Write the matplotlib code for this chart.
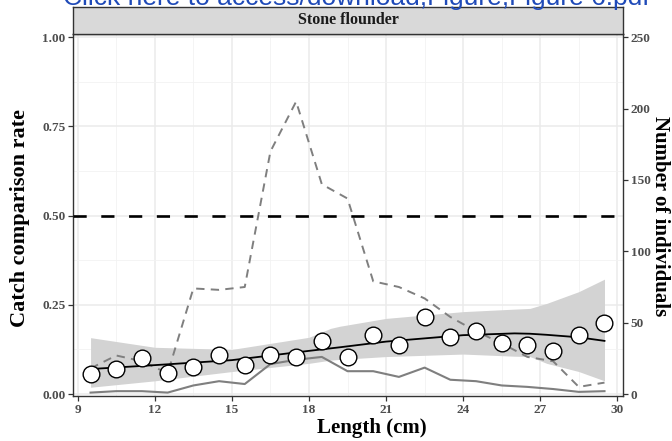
import numpy as np
import matplotlib
matplotlib.use("Agg")
import matplotlib.pyplot as plt

plt.rcParams['font.family'] = ['Liberation Serif', 'DejaVu Serif']
plt.rcParams['font.weight'] = 'bold'
plt.rcParams['lines.scale_dashes'] = False

# length classes (cm) and observed catch comparison rate
length = [9.5, 10.5, 11.5, 12.5, 13.5, 14.5, 15.5, 16.5, 17.5, 18.5,
          19.5, 20.5, 21.5, 22.5, 23.5, 24.5, 25.5, 26.5, 27.5, 28.5, 29.5]
rate_obs = [0.055, 0.069, 0.100, 0.058, 0.077, 0.109, 0.081, 0.109, 0.105, 0.149,
            0.105, 0.165, 0.137, 0.215, 0.159, 0.177, 0.142, 0.137, 0.121, 0.165, 0.200]

# number of individuals (right axis): total and test gear
n_total = [18, 27, 23, 14.5, 74, 73, 75, 170, 205, 147,
           137, 79, 75, 67, 54, 44, 35.5, 26, 23, 5, 8]
n_test = [1, 2, 2, 1, 6, 9, 7, 21, 24, 26,
          16, 16, 12, 18.5, 10, 9, 6, 5, 3.5, 1.5, 2]

# fitted curve with 95% band
fit_x = [9.5, 12, 15, 18, 18.84, 19.2, 21, 24, 26, 26.6, 27.25, 28.5, 29.5]
fit_y = [0.070, 0.081, 0.095, 0.121, 0.128, 0.131, 0.147, 0.165, 0.170, 0.169, 0.166, 0.159, 0.149]
fit_lo = [0.019, 0.037, 0.063, 0.086, 0.095, 0.097, 0.105, 0.112, 0.106, 0.105, 0.086, 0.063, 0.037]
fit_hi = [0.158, 0.131, 0.125, 0.159, 0.184, 0.190, 0.212, 0.231, 0.238, 0.240, 0.254, 0.287, 0.322]

x_ticks = [9, 12, 15, 18, 21, 24, 27, 30]
y_ticks = [0.00, 0.25, 0.50, 0.75, 1.00]
n_ticks = [0, 50, 100, 150, 200, 250]
n_max = 250

tick_col = '#4D4D4D'
grey = '#7F7F7F'
W, H = 672, 441

fig = plt.figure(figsize=(6.72, 4.41), dpi=100)
ax = fig.add_axes([0.1091, 0.1020, 0.8176, 0.8209])

ax.fill_between(fit_x, fit_lo, fit_hi, color='#D3D3D3', lw=0, zorder=2)
ax.plot(length, np.array(n_total) / n_max, color=grey, lw=1.4, dashes=(6, 4.5), zorder=3)
ax.plot(length, np.array(n_test) / n_max, color=grey, lw=1.5, zorder=3)
ax.axhline(0.5, color='black', lw=1.9, dashes=(9.5, 10.5), zorder=3)
ax.plot(fit_x, fit_y, color='black', lw=1.3, zorder=4)
ax.plot(length, rate_obs, 'o', ms=12, mfc='white', mec='black', mew=1.0, zorder=5)

ax.set_xlim(8.829, 30.21)
ax.set_ylim(-0.0056, 1.0093)
ax.set_xticks(x_ticks)
ax.set_xticks(np.arange(10.5, 30, 3), minor=True)
ax.set_yticks(y_ticks)
ax.set_yticks(np.arange(0.125, 1.0, 0.25), minor=True)
ax.set_yticklabels(['%.2f' % v for v in y_ticks])
ax.grid(True, which='major', color='#EBEBEB', lw=1.1, zorder=0)
ax.grid(True, which='minor', color='#F2F2F2', lw=0.6, zorder=0)
ax.set_axisbelow(True)
ax.tick_params(which='minor', length=0)
ax.tick_params(which='major', length=3.3, width=0.9, color='#333333',
               labelcolor=tick_col, labelsize=9.5, pad=2.5)
for s in ax.spines.values():
    s.set_color('#333333')
    s.set_linewidth(1.0)

ax2 = ax.twinx()
ax2.set_ylim(-0.0056 * n_max, 1.0093 * n_max)
ax2.set_yticks(n_ticks)
ax2.tick_params(length=3.3, width=0.9, color='#333333',
                labelcolor=tick_col, labelsize=9.5, pad=2.5)
for s in ax2.spines.values():
    s.set_visible(False)

# axis titles
fig.text(372 / W, 1 - 428 / H, 'Length (cm)', ha='center', va='center',
         fontsize=15, fontweight='bold')
fig.text(20 / W, 1 - 218 / H, 'Catch comparison rate', ha='center', va='center',
         rotation=90, fontsize=16, fontweight='bold')
fig.text(660 / W, 1 - 216 / H, 'Number of individuals', ha='center', va='center',
         rotation=-90, fontsize=15, fontweight='bold')

# facet strip
sax = fig.add_axes([0.1091, 0.9229, 0.8176, 0.0620])
sax.set_facecolor('#D9D9D9')
sax.set_xticks([])
sax.set_yticks([])
for s in sax.spines.values():
    s.set_color('#333333')
    s.set_linewidth(1.0)
sax.text(0.5, 0.5, 'Stone flounder', ha='center', va='center', fontsize=11.5,
         color='#1A1A1A', transform=sax.transAxes)

# clipped download banner at the top of the page
fig.text(63 / W, 1 - 5 / H, 'Click here to access/download;Figure;Figure 6.pdf',
         family='Liberation Sans', weight='normal', fontsize=19, color='#1F4AB8',
         va='baseline', ha='left')

fig.savefig('out.png', dpi=100)
